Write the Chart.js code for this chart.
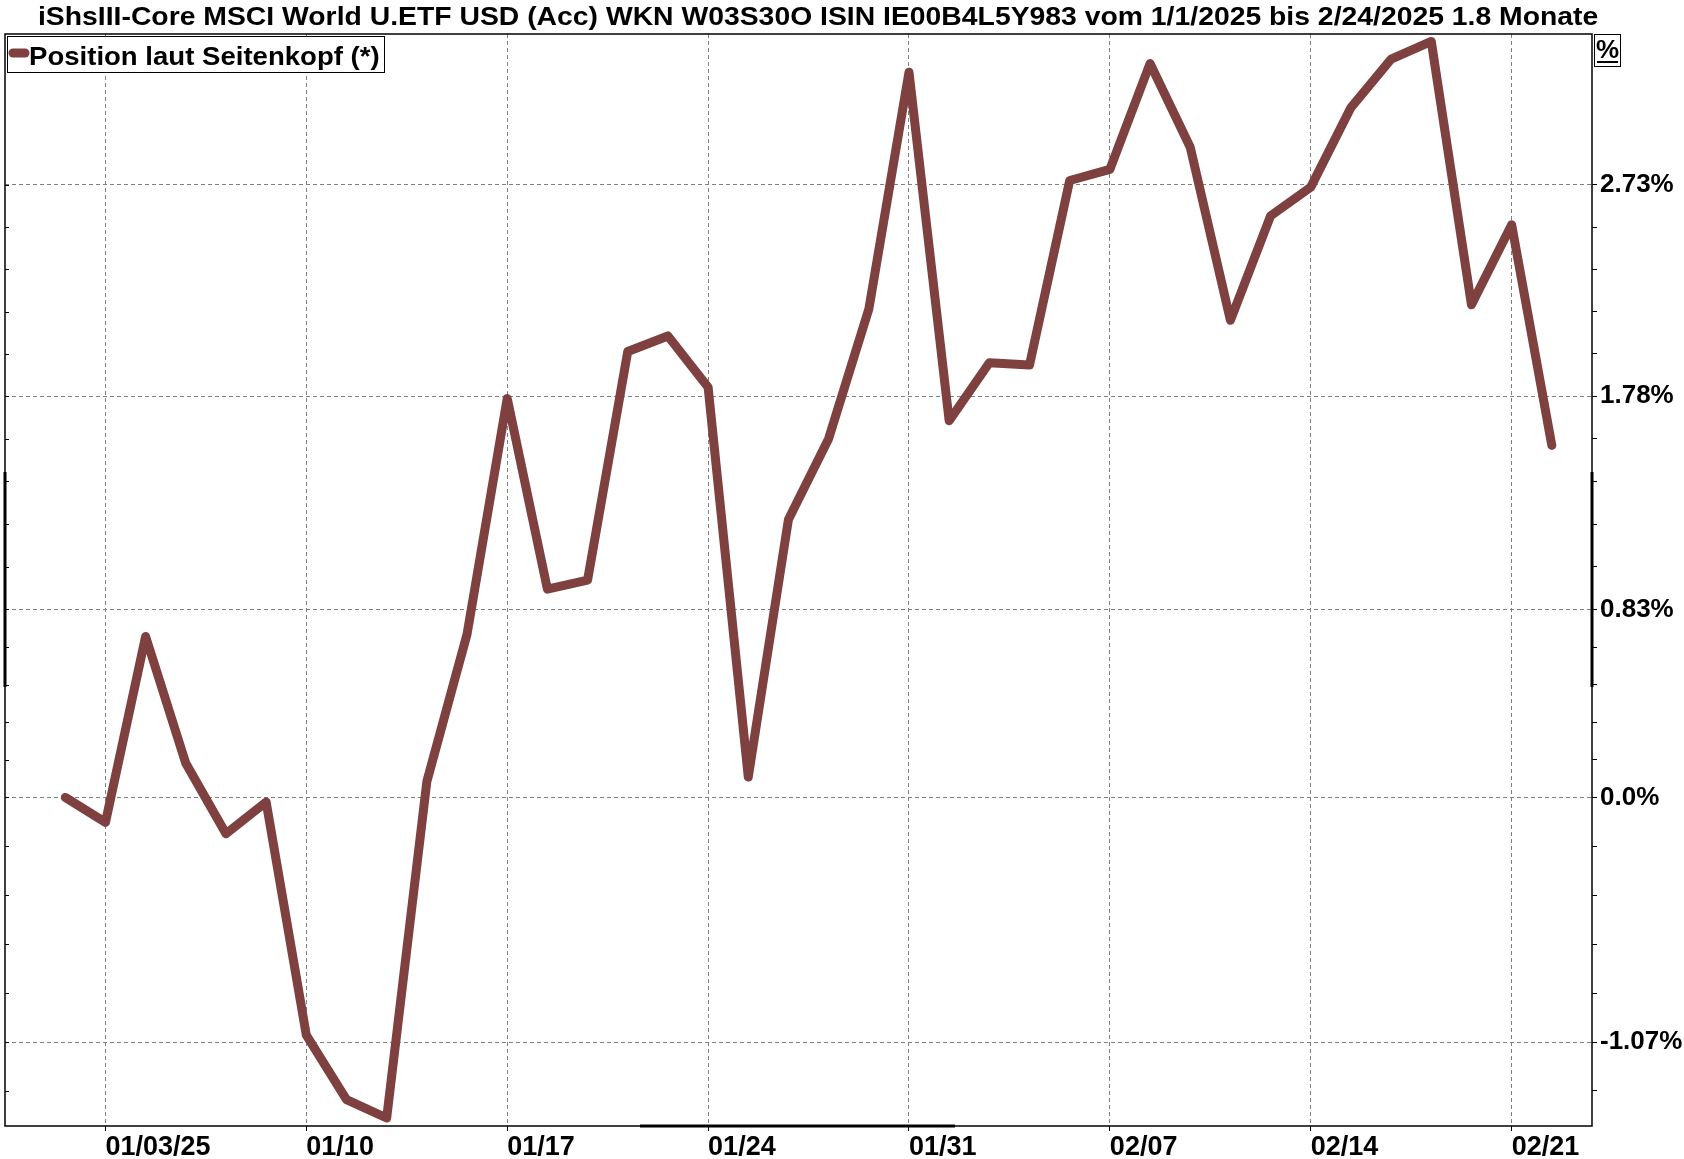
<!DOCTYPE html>
<html>
<head>
<meta charset="utf-8">
<title>iShsIII-Core MSCI World U.ETF USD (Acc)</title>
<script src="https://cdn.jsdelivr.net/npm/chart.js@4.4.1/dist/chart.umd.min.js"></script>
<style>
    html, body { margin: 0; padding: 0; background: #fff; }
    #chart1 { display: block; }
</style>
</head>
<body>
<canvas id="chart1" width="1684" height="1159"></canvas>
<script>
const chartTitle = 'iShsIII-Core MSCI World U.ETF USD (Acc) WKN W03S30O ISIN IE00B4L5Y983 vom 1/1/2025 bis 2/24/2025 1.8 Monate';
const seriesLabel = 'Position laut Seitenkopf (*)';

// trading days (XETRA), 01/02 .. 02/24
const dates = ['01/02', '01/03', '01/06', '01/07', '01/08', '01/09', '01/10', '01/13', '01/14', '01/15',
    '01/16', '01/17', '01/20', '01/21', '01/22', '01/23', '01/24', '01/27', '01/28', '01/29',
    '01/30', '01/31', '02/03', '02/04', '02/05', '02/06', '02/07', '02/10', '02/11', '02/12',
    '02/13', '02/14', '02/17', '02/18', '02/19', '02/20', '02/21', '02/24'];

// change in % since start
const values = [0.00, -0.11, 0.71, 0.15, -0.16, -0.02, -1.04, -1.32, -1.40, 0.07,
    0.72, 1.77, 0.92, 0.96, 1.98, 2.05, 1.82, 0.09, 1.23, 1.59,
    2.17, 3.24, 1.67, 1.93, 1.92, 2.75, 2.80, 3.28, 2.90, 2.12,
    2.59, 2.72, 3.08, 3.30, 3.38, 2.19, 2.55, 1.56];

const xTickLabels = ['01/03/25', '01/10', '01/17', '01/24', '01/31', '02/07', '02/14', '02/21'];
const yTickValues = [-1.07, 0, 0.83, 1.78, 2.73];
const yTickLabels = ['-1.07%', '0.0%', '0.83%', '1.78%', '2.73%'];

const lineColor = '#7f4040';
const fontFamily = '"Liberation Sans", Arial, sans-serif';

// the y axis is logarithmic in price, so plot ln(1 + p)
const toAxis = p => 100 * Math.log(1 + p / 100);

const points = values.map((v, i) => ({ x: i, y: toAxis(v) }));

// text drawn a bit wider, like the original
function wideText(ctx, text, x, y, stretch) {
    ctx.save();
    ctx.translate(x, y);
    ctx.scale(stretch, 1);
    ctx.fillText(text, 0, 0);
    ctx.restore();
}

const decorations = {
    id: 'decorations',
    afterDraw(chart) {
        const { ctx, chartArea: a } = chart;
        const yScale = chart.scales.y;
        ctx.save();

        // title
        ctx.fillStyle = '#000';
        ctx.font = 'bold 26px ' + fontFamily;
        ctx.textBaseline = 'alphabetic';
        ctx.textAlign = 'left';
        wideText(ctx, chartTitle, 38, 25, 1.09);

        // plot frame
        ctx.strokeStyle = '#000';
        ctx.lineWidth = 1.5;
        ctx.strokeRect(a.left, a.top, a.right - a.left, a.bottom - a.top);
        ctx.lineWidth = 3;
        ctx.beginPath();
        ctx.moveTo(a.left, 472); ctx.lineTo(a.left, 687);
        ctx.moveTo(a.right, 472); ctx.lineTo(a.right, 687);
        ctx.moveTo(640, a.bottom); ctx.lineTo(955, a.bottom);
        ctx.stroke();

        // inward ticks on the left side
        ctx.lineWidth = 1;
        ctx.beginPath();
        yScale.ticks.forEach(t => {
            const py = Math.round(yScale.getPixelForValue(t.value)) + 0.5;
            ctx.moveTo(a.left, py);
            ctx.lineTo(a.left + 4, py);
        });
        ctx.stroke();

        // legend box
        ctx.fillStyle = '#fff';
        ctx.fillRect(7.5, 36.5, 377, 36);
        ctx.strokeStyle = '#000';
        ctx.lineWidth = 1;
        ctx.strokeRect(7.5, 36.5, 377, 36);
        ctx.strokeStyle = lineColor;
        ctx.lineWidth = 9;
        ctx.lineCap = 'round';
        ctx.beginPath();
        ctx.moveTo(13, 53);
        ctx.lineTo(25, 53);
        ctx.stroke();
        ctx.fillStyle = '#000';
        ctx.font = 'bold 26px ' + fontFamily;
        wideText(ctx, seriesLabel, 29, 65, 1.06);

        // unit box
        ctx.lineWidth = 1;
        ctx.lineCap = 'butt';
        ctx.strokeStyle = '#000';
        ctx.strokeRect(1594.5, 34.5, 26, 32);
        ctx.textAlign = 'center';
        ctx.fillText('%', 1607.5, 58);
        ctx.fillRect(1597, 61, 21, 2);

        ctx.restore();
    }
};

window.addEventListener('DOMContentLoaded', () => {
    const ctx1 = document.getElementById('chart1').getContext('2d');
    new Chart(ctx1, {
        type: 'line',
        data: {
            datasets: [{
                label: seriesLabel,
                data: points,
                borderColor: lineColor,
                backgroundColor: lineColor,
                borderWidth: 9,
                borderJoinStyle: 'round',
                borderCapStyle: 'round',
                pointRadius: 0,
                tension: 0,
                fill: false
            }]
        },
        options: {
            responsive: false,
            animation: false,
            events: [],
            layout: {
                padding: { top: 34, left: 5, right: 0, bottom: 0 }
            },
            plugins: {
                legend: { display: false },
                title: { display: false },
                tooltip: { enabled: false }
            },
            scales: {
                x: {
                    type: 'linear',
                    position: 'bottom',
                    min: -1.5,
                    max: 38,
                    afterBuildTicks: scale => {
                        scale.ticks = xTickLabels.map(l => ({ value: dates.indexOf(l.slice(0, 5)) }));
                    },
                    afterFit: scale => { scale.height = 33; },
                    ticks: {
                        autoSkip: false,
                        maxRotation: 0,
                        align: 'start',
                        padding: 0,
                        color: '#000',
                        font: { family: fontFamily, size: 27, weight: 'bold' },
                        callback: (value, index) => xTickLabels[index]
                    },
                    grid: {
                        color: '#808080',
                        lineWidth: 1,
                        tickLength: 5,
                        tickColor: '#000',
                        tickBorderDash: []
                    },
                    border: { display: false, dash: [4, 3] }
                },
                y: {
                    type: 'linear',
                    position: 'right',
                    min: -1.445,
                    max: 3.357,
                    afterBuildTicks: scale => {
                        const major = yTickValues.map(toAxis);
                        const ticks = [];
                        major.forEach((m, i) => {
                            ticks.push({ value: m, isMajor: true, text: yTickLabels[i] });
                            if (i < major.length - 1) {
                                const step = (major[i + 1] - m) / 5;
                                for (let k = 1; k < 5; k++) ticks.push({ value: m + k * step, isMajor: false });
                            }
                        });
                        // one more minor tick below the lowest major
                        const lowStep = (major[1] - major[0]) / 5;
                        ticks.unshift({ value: major[0] - lowStep, isMajor: false });
                        scale.ticks = ticks;
                    },
                    afterFit: scale => { scale.width = 92; },
                    ticks: {
                        autoSkip: false,
                        padding: 3,
                        color: '#000',
                        font: { family: fontFamily, size: 26, weight: 'bold' },
                        callback: (value, index, ticks) => ticks[index].isMajor ? ticks[index].text : ''
                    },
                    grid: {
                        color: c => (c.tick && c.tick.isMajor) ? '#808080' : 'rgba(0,0,0,0)',
                        lineWidth: 1,
                        tickLength: 5,
                        tickColor: '#000',
                        tickBorderDash: []
                    },
                    border: { display: false, dash: [4, 3] }
                }
            }
        },
        plugins: [decorations]
    });
});
</script>
</body>
</html>
